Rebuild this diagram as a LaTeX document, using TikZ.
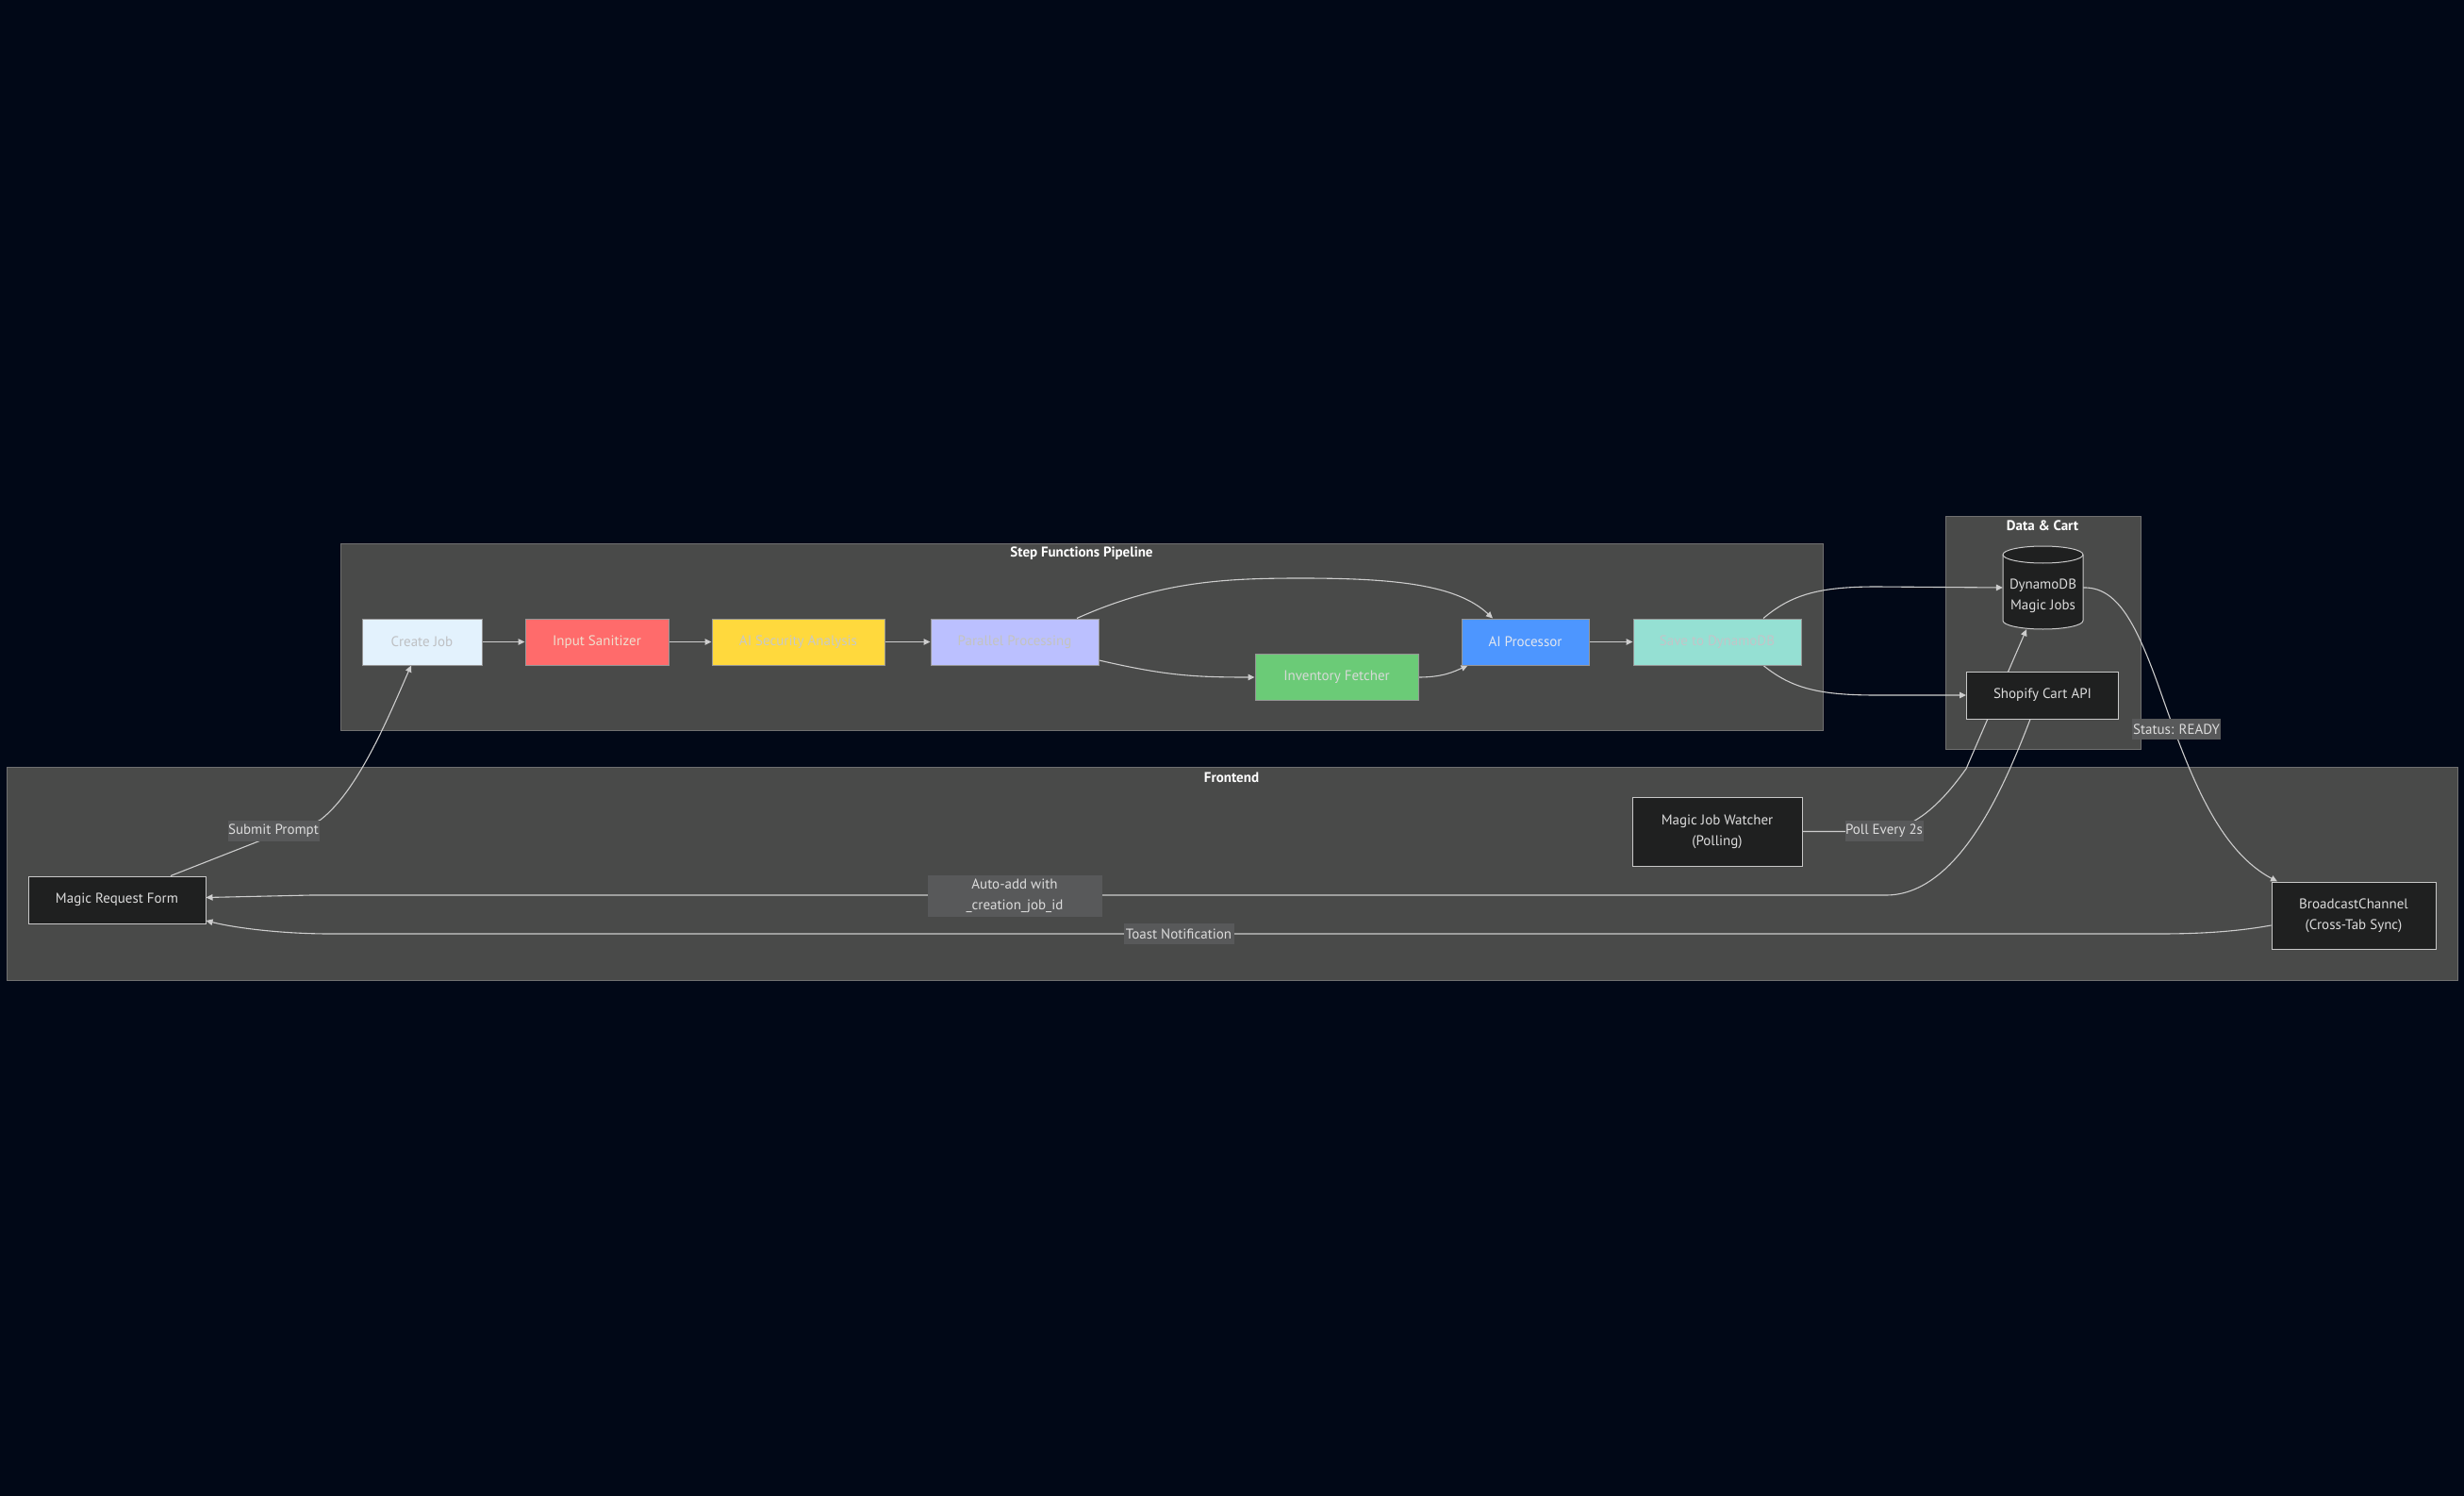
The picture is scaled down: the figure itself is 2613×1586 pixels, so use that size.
\documentclass[tikz,border=0pt]{standalone}
\usepackage{fontspec}
\setmainfont{PT Sans}
\usetikzlibrary{arrows.meta}
\definecolor{bgc}{RGB}{1,8,23}
\definecolor{clfill}{RGB}{73,74,73}
\definecolor{cldraw}{RGB}{112,112,112}
\definecolor{darkfill}{RGB}{31,32,32}
\definecolor{nodedraw}{RGB}{200,200,200}
\definecolor{nodetext}{RGB}{220,220,220}
\definecolor{edgec}{RGB}{205,205,205}
\definecolor{lblfill}{RGB}{88,89,90}
\definecolor{lbltext}{RGB}{220,220,220}
\definecolor{coltext}{RGB}{200,200,200}
\definecolor{cCreate}{RGB}{227,242,253}
\definecolor{cSan}{RGB}{255,107,107}
\definecolor{cSec}{RGB}{255,217,61}
\definecolor{cPar}{RGB}{187,192,255}
\definecolor{cInv}{RGB}{107,203,119}
\definecolor{cAI}{RGB}{77,150,255}
\definecolor{cSave}{RGB}{149,224,211}
\definecolor{colborder}{RGB}{150,150,150}
\pgfdeclarelayer{bg}
\pgfdeclarelayer{edges}
\pgfsetlayers{bg,edges,main}
\tikzset{
  txt/.style={font=\fontsize{15}{22}\selectfont},
  box/.style={txt, draw, line width=1pt, minimum height=49pt, inner sep=0pt, align=center},
  darkbox/.style={box, fill=darkfill, draw=nodedraw, text=nodetext},
  colbox/.style={box, draw=colborder, text=coltext},
  cluster/.style={fill=clfill, draw=cldraw, line width=1pt},
  ctitle/.style={font=\bfseries\fontsize{15}{18}\selectfont, text=white, inner sep=0pt},
  edge/.style={draw=edgec, line width=1.1pt, -{Triangle[length=7pt,width=6.5pt]}},
  lbl/.style={txt, fill=lblfill, text=lbltext, inner sep=0pt, align=center, minimum height=22pt},
}
\begin{document}
\begin{tikzpicture}[x=1pt,y=-1pt]
\useasboundingbox (0,0) rectangle (2613,1586);

% background and clusters
\begin{pgfonlayer}{bg}
\fill[bgc] (0,0) rectangle (2613,1586);
\path[cluster] (361,576) rectangle (1933,774);
\path[cluster] (2063,547) rectangle (2270,794);
\path[cluster] (7,813) rectangle (2606,1039);
\end{pgfonlayer}
\node[ctitle] (tstep) at (1147,587) {Step Functions Pipeline};
\node[ctitle] (tdata) at (2166,557) {Data \& Cart};
\node[ctitle] (tfront) at (1306,824) {Frontend};

% pipeline nodes
\node[colbox, fill=cCreate, text={rgb,255:red,190;green,192;blue,195}, minimum width=127pt] (create) at (447.5,680.5) {Create Job};
\node[colbox, fill=cSan, text={rgb,255:red,240;green,222;blue,205}, minimum width=152pt] (sanit) at (633,680.5) {Input Sanitizer};
\node[colbox, fill=cSec, minimum width=183pt] (secur) at (846.5,680.5) {AI Security Analysis};
\node[colbox, fill=cPar, text={rgb,255:red,196;green,196;blue,190}, minimum width=178pt] (para) at (1076,680.5) {Parallel Processing};
\node[colbox, fill=cInv, text={rgb,255:red,215;green,218;blue,215}, minimum width=173pt] (inv) at (1417.5,718) {Inventory Fetcher};
\node[colbox, fill=cAI, text={rgb,255:red,225;green,230;blue,240}, minimum width=135pt] (aiproc) at (1617.5,680.5) {AI Processor};
\node[colbox, fill=cSave, text={rgb,255:red,196;green,196;blue,200}, minimum width=178pt] (save) at (1821,680.5) {Save to DynamoDB};

% data & cart
\node[minimum width=85pt, minimum height=88pt, inner sep=0pt] (dynamo) at (2166.5,623) {};
\path[fill=darkfill, draw=nodedraw, line width=1pt] (2124,588) -- (2124,658) arc[start angle=180,end angle=0,x radius=42.5,y radius=9] -- (2209,588) arc[start angle=0,end angle=-180,x radius=42.5,y radius=9] -- cycle;
\draw[nodedraw, line width=1pt] (2124,588) arc[start angle=180,end angle=0,x radius=42.5,y radius=9];
\node[txt, text=nodetext, align=center, inner sep=0pt] (dynamotext) at (2166.5,632) {DynamoDB\\Magic Jobs};
\node[darkbox, minimum width=161pt, minimum height=50pt] (shopify) at (2166,737) {Shopify Cart API};

% frontend
\node[darkbox, minimum width=188pt, minimum height=50pt] (form) at (124,954) {Magic Request Form};
\node[darkbox, minimum width=180pt, minimum height=73pt] (watcher) at (1821,881.5) {Magic Job Watcher\\(Polling)};
\node[darkbox, minimum width=174pt, minimum height=71pt] (bcast) at (2496,970.5) {BroadcastChannel\\(Cross-Tab Sync)};

% edges
\begin{pgfonlayer}{edges}
\draw[edge] (create) -- (sanit);
\draw[edge] (sanit) -- (secur);
\draw[edge] (secur) -- (para);
\draw[edge] ([xshift=66pt]para.north) .. controls (1230,616) and (1300,613) .. (1380,613) .. controls (1480,613) and (1545,620) .. ([xshift=-34.5pt]aiproc.north);
\draw[edge] ([yshift=-19.5pt]para.east) .. controls (1235,716) and (1265,718) .. (inv.west);
\draw[edge] (inv.east) .. controls (1530,718) and (1542,712) .. ([xshift=7pt]aiproc.south west);
\draw[edge] (aiproc) -- (save);
\draw[edge] ([xshift=49pt]save.north) .. controls (1900,630) and (1930,622) .. (1990,622) -- (dynamo.west);
\draw[edge] ([xshift=49pt]save.south) .. controls (1900,730) and (1930,737) .. (1990,737) -- (shopify.west);
\draw[edge] ([xshift=57pt]form.north) -- (274,892) .. controls (300,882) and (320,880) .. (340,869) .. controls (380,838) and (412,760) .. ([xshift=-11.5pt]create.south);
\draw[edge] (watcher.east) -- (1990,881.5) .. controls (2030,881.5) and (2060,850) .. (2085,815) -- ([xshift=-17.5pt]dynamo.south);
\draw[edge] ([xshift=-13pt]shopify.south) .. controls (2127,830) and (2078,949) .. (2000,949) -- (330,949) -- ([yshift=2.5pt]form.east);
\draw[edge] (dynamo.east) .. controls (2245,622) and (2265,660) .. (2290,730) .. controls (2320,815) and (2350,900) .. ([xshift=-81pt]bcast.north);
\draw[edge] ([yshift=-10.5pt]bcast.west) .. controls (2370,988) and (2330,990) .. (2290,990) -- (350,990) .. controls (300,990) and (250,984) .. ([yshift=-22pt]form.east);
\end{pgfonlayer}

% edge labels
\node[lbl, minimum width=97pt] (lsubmit) at (290,881) {Submit Prompt};
\node[lbl, minimum width=185pt, minimum height=44pt] (lauto) at (1076,950) {Auto-add with\\\_creation\_job\_id};
\node[lbl, minimum width=83pt] (lpoll) at (1998,881) {Poll Every 2s};
\node[lbl, minimum width=117pt] (ltoast) at (1250,990) {Toast Notification};
\node[lbl, minimum width=94pt] (lstatus) at (2308,773) {Status: READY};
\end{tikzpicture}
\end{document}
